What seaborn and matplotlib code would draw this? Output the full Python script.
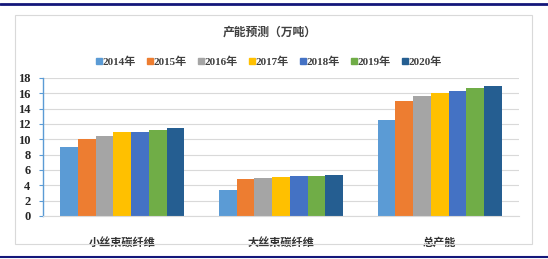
import matplotlib
matplotlib.use("Agg")
import matplotlib.pyplot as plt
import seaborn as sns
import pandas as pd
from matplotlib.patches import Rectangle
from matplotlib.lines import Line2D

categories = ["小丝束碳纤维", "大丝束碳纤维", "总产能"]
years = ["2014年", "2015年", "2016年", "2017年", "2018年", "2019年", "2020年"]
small_tow = [9.0, 10.1, 10.5, 10.9, 11.0, 11.25, 11.5]
large_tow = [3.4, 4.8, 4.95, 5.1, 5.2, 5.25, 5.3]
total = [12.5, 15.0, 15.65, 16.0, 16.3, 16.65, 16.9]
y_ticks = [0, 2, 4, 6, 8, 10, 12, 14, 16, 18]
title = "产能预测（万吨）"

colors = ["#5B9BD5", "#ED7D31", "#A5A5A5", "#FFC000", "#4472C4", "#70AD47", "#255E91"]

rows = []
for cat, vals in zip(categories, [small_tow, large_tow, total]):
    for yr, v in zip(years, vals):
        rows.append({"类别": cat, "年份": yr, "值": v})
df = pd.DataFrame(rows)

sns.set_theme(style="white")
plt.rcParams["font.family"] = ["Liberation Serif", "Noto Sans CJK SC"]

W, H = 548, 259
fig = plt.figure(figsize=(W / 100, H / 100), dpi=100)
ax = fig.add_axes([43 / W, 1 - 216 / H, (519 - 43) / W, (216 - 78) / H])

sns.barplot(data=df, x="类别", y="值", hue="年份", order=categories, hue_order=years,
            palette=colors, width=0.78, linewidth=0, ax=ax, legend=False, errorbar=None,
            saturation=1)

ax.set_ylim(0, 18)
ax.set_yticks(y_ticks)
ax.set_xlim(-0.5, 2.5)
ax.set_xlabel("")
ax.set_ylabel("")
ax.grid(axis="y", color="#D9D9D9", linewidth=0.8)
ax.set_axisbelow(True)
for s in ["top", "right"]:
    ax.spines[s].set_visible(False)
ax.spines["left"].set_color("#5B9BD5")
ax.spines["left"].set_linewidth(1.0)
ax.spines["bottom"].set_color("#D9D9D9")
ax.spines["bottom"].set_linewidth(0.8)
ax.tick_params(axis="y", which="major", left=True, length=3, width=0.8, color="#5B9BD5",
               labelsize=9, pad=6)
ax.tick_params(axis="x", bottom=False, pad=8)
for lab in ax.get_yticklabels():
    lab.set_fontweight("bold")
    lab.set_color("#262626")
ax.set_xticks(range(len(categories)))
ax.set_xticklabels(categories, fontsize=8, fontweight="bold", color="#333333",
                   family=["Noto Sans CJK SC"])

# legend
handles = [Line2D([0], [0], marker="s", linestyle="", markersize=4,
                  markerfacecolor=c, markeredgecolor=c) for c in colors]
leg = fig.legend(handles, years, loc="center", bbox_to_anchor=(269 / W, 1 - 62 / H),
                 ncol=7, frameon=False, fontsize=8, handlelength=0.5, handletextpad=0.1,
                 columnspacing=1.0, borderaxespad=0)
for t in leg.get_texts():
    t.set_fontweight("bold")
    t.set_color("#404040")

fig.text(270 / W, 1 - 32 / H, title, ha="center", va="center", fontsize=8.5,
         fontweight="bold", color="#404040", family=["Noto Sans CJK SC"])

# chart box
fig.patches.append(Rectangle((15 / W, 1 - 244 / H), (532 - 15) / W, (244 - 15) / H,
                             transform=fig.transFigure, fill=False,
                             edgecolor="#D9D9D9", linewidth=0.8))
# navy rules
fig.add_artist(Line2D([0, 1], [1 - 4 / H, 1 - 4 / H], transform=fig.transFigure,
                      color="#14177A", linewidth=2.0))
fig.add_artist(Line2D([0, 1], [1 - 257 / H, 1 - 257 / H], transform=fig.transFigure,
                      color="#14177A", linewidth=1.5))

fig.savefig("out.png", dpi=100)
